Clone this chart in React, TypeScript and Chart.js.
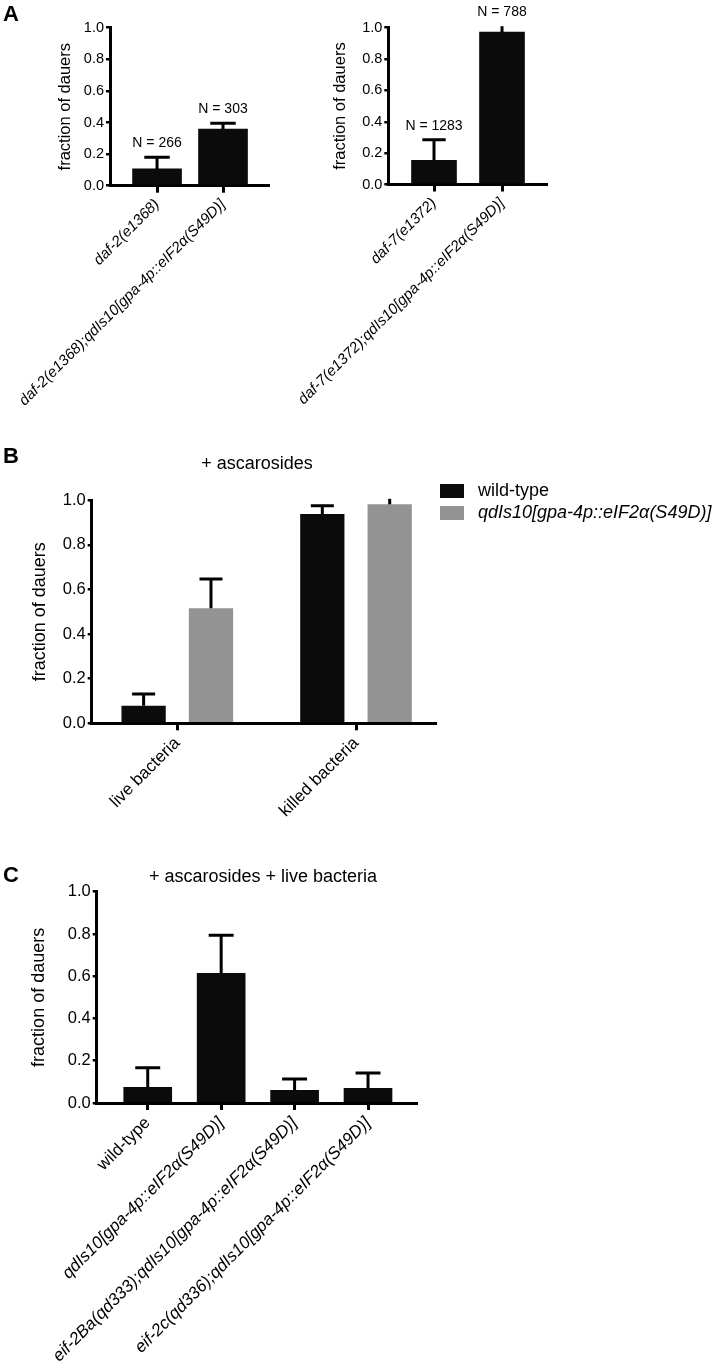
import React, { useEffect, useRef } from 'react';
import { Chart, registerables } from 'chart.js';

Chart.register(...registerables);

const FONT = '"Liberation Sans", Arial, Helvetica, sans-serif';

// ---------- Panel A (left) ----------
const aLeftLabels = ['daf-2(e1368)', 'daf-2(e1368);qdIs10[gpa-4p::eIF2α(S49D)]'];
const aLeftMeans = [0.106, 0.359];
const aLeftErrors = [0.074, 0.036];
const aLeftN = [266, 303];

// ---------- Panel A (right) ----------
const aRightLabels = ['daf-7(e1372)', 'daf-7(e1372);qdIs10[gpa-4p::eIF2α(S49D)]'];
const aRightMeans = [0.154, 0.972];
const aRightErrors = [0.132, 0.04];
const aRightN = [1283, 788];

// ---------- Panel B ----------
const bCategories = ['live bacteria', 'killed bacteria'];
const bSeriesNames = ['wild-type', 'qdIs10[gpa-4p::eIF2α(S49D)]'];
const bWildType = [0.079, 0.939];
const bWildTypeErr = [0.052, 0.037];
const bQdIs10 = [0.516, 0.982];
const bQdIs10Err = [0.131, 0.03];

// ---------- Panel C ----------
const cLabels = [
  'wild-type',
  'qdIs10[gpa-4p::eIF2α(S49D)]',
  'eif-2Ba(qd333);qdIs10[gpa-4p::eIF2α(S49D)]',
  'eif-2c(qd336);qdIs10[gpa-4p::eIF2α(S49D)]',
];
const cMeans = [0.074, 0.614, 0.06, 0.07];
const cErrors = [0.093, 0.18, 0.054, 0.072];

const yTitle = 'fraction of dauers';

const BLACK = '#0b0b0b';
const GRAY = '#939393';

type TextItem = { text: string; x: number; y: number; size: number; weight?: string; style?: string; align?: CanvasTextAlign };

function textPlugin(items: TextItem[]) {
  return {
    id: 'texts',
    afterDraw(chart: any) {
      const ctx = chart.ctx;
      ctx.save();
      ctx.fillStyle = '#000';
      ctx.textBaseline = 'middle';
      items.forEach((t) => {
        ctx.font = `${t.style || 'normal'} ${t.weight || 'normal'} ${t.size}px ${FONT}`;
        ctx.textAlign = t.align || 'left';
        ctx.fillText(t.text, t.x, t.y);
      });
      ctx.restore();
    },
  };
}

const errorBarPlugin = {
  id: 'errorBars',
  afterDatasetsDraw(chart: any) {
    const { ctx, chartArea } = chart;
    const y = chart.scales.y;
    chart.data.datasets.forEach((ds: any, di: number) => {
      const errs: number[] | undefined = ds.errors;
      if (!errs) return;
      const meta = chart.getDatasetMeta(di);
      meta.data.forEach((bar: any, i: number) => {
        const v = ds.data[i].y;
        const yBase = y.getPixelForValue(v);
        let yTop = y.getPixelForValue(v + errs[i]);
        const clipped = yTop < chartArea.top - 1.5;
        if (clipped) yTop = chartArea.top - 1.5;
        ctx.save();
        ctx.strokeStyle = '#000';
        ctx.lineWidth = 3;
        ctx.lineCap = 'butt';
        ctx.beginPath();
        ctx.moveTo(bar.x, yBase);
        ctx.lineTo(bar.x, yTop);
        if (!clipped) {
          const hw = bar.width * 0.26;
          ctx.moveTo(bar.x - hw, yTop);
          ctx.lineTo(bar.x + hw, yTop);
        }
        ctx.stroke();
        ctx.restore();
      });
    });
  },
};

function nLabelPlugin(ns: number[], size: number) {
  return {
    id: 'nLabels',
    afterDatasetsDraw(chart: any) {
      const { ctx, chartArea } = chart;
      const y = chart.scales.y;
      const ds: any = chart.data.datasets[0];
      const meta = chart.getDatasetMeta(0);
      ctx.save();
      ctx.fillStyle = '#000';
      ctx.font = `${size}px ${FONT}`;
      ctx.textAlign = 'center';
      ctx.textBaseline = 'middle';
      meta.data.forEach((bar: any, i: number) => {
        let top = y.getPixelForValue(ds.data[i].y + ds.errors[i]);
        if (top < chartArea.top - 1.5) top = chartArea.top - 1.5;
        ctx.fillText(`N = ${ns[i]}`, bar.x, top - 14);
      });
      ctx.restore();
    },
  };
}

function legendPlugin(x: number, y: number, gap: number, size: number) {
  return {
    id: 'customLegend',
    afterDraw(chart: any) {
      const ctx = chart.ctx;
      ctx.save();
      ctx.textBaseline = 'middle';
      ctx.textAlign = 'left';
      chart.data.datasets.forEach((ds: any, i: number) => {
        const cy = y + i * gap;
        ctx.fillStyle = ds.backgroundColor;
        ctx.fillRect(x, cy - 7, 24, 14);
        ctx.fillStyle = '#000';
        ctx.font = `${i === 0 ? 'normal' : 'italic'} ${size}px ${FONT}`;
        ctx.fillText(ds.label, x + 38, cy);
      });
      ctx.restore();
    },
  };
}

type Spec = {
  width: number;
  height: number;
  area: { left: number; top: number; right: number; bottom: number };
  xMin: number;
  xMax: number;
  labels: string[];
  italic: (i: number) => boolean;
  labelSize: number;
  tickSize: number;
  titleSize: number;
  titleCenterX: number;
  datasets: any[];
  plugins: any[];
};

function buildConfig(s: Spec): any {
  return {
    type: 'bar',
    data: { datasets: s.datasets },
    plugins: [errorBarPlugin, ...s.plugins],
    options: {
      animation: false,
      responsive: false,
      devicePixelRatio: 1,
      events: [],
      layout: {
        autoPadding: false,
        padding: { left: 0, top: s.area.top, right: s.width - s.area.right, bottom: 0 },
      },
      plugins: { legend: { display: false }, tooltip: { enabled: false }, title: { display: false } },
      scales: {
        x: {
          type: 'linear',
          position: 'bottom',
          min: s.xMin,
          max: s.xMax,
          bounds: 'data',
          offset: false,
          afterBuildTicks: (sc: any) => {
            sc.ticks = s.labels.map((_, i) => ({ value: i + 1 }));
          },
          afterFit: (sc: any) => {
            sc.height = s.height - s.area.bottom;
            sc.paddingLeft = 0;
            sc.paddingRight = 0;
          },
          grid: { display: true, drawOnChartArea: false, drawTicks: true, tickLength: 7, lineWidth: 3, color: '#000', offset: false },
          border: { display: true, width: 3, color: '#000' },
          ticks: {
            autoSkip: false,
            minRotation: 45,
            maxRotation: 45,
            padding: 3,
            color: '#000',
            font: (ctx: any) => ({ family: FONT, size: s.labelSize, style: s.italic(ctx.index) ? 'italic' : 'normal' }),
            callback: (v: any) => s.labels[Math.round(Number(v)) - 1] ?? '',
          },
        },
        y: {
          type: 'linear',
          min: 0,
          max: 1,
          afterFit: (sc: any) => {
            sc.width = s.area.left;
            sc.paddingTop = 0;
            sc.paddingBottom = 0;
          },
          grid: { display: true, drawOnChartArea: false, drawTicks: true, tickLength: 4, lineWidth: 2.5, color: '#000' },
          border: { display: true, width: 3, color: '#000' },
          ticks: {
            stepSize: 0.2,
            padding: 2,
            color: '#000',
            font: { family: FONT, size: s.tickSize },
            callback: (v: any) => Number(v).toFixed(1),
          },
          title: {
            display: true,
            text: yTitle,
            color: '#000',
            font: { family: FONT, size: s.titleSize, lineHeight: 1.2 },
            padding: { top: s.titleCenterX - 0.6 * s.titleSize, bottom: 0 },
          },
        },
      },
    },
  };
}

function pts(values: number[]) {
  return values.map((v, i) => ({ x: i + 1, y: v }));
}

function ChartCanvas({ left, top, width, height, build }: { left: number; top: number; width: number; height: number; build: () => any }) {
  const ref = useRef<HTMLCanvasElement>(null);
  useEffect(() => {
    const chart = new Chart(ref.current as HTMLCanvasElement, build());
    return () => chart.destroy();
  }, []);
  return (
    <canvas
      ref={ref}
      width={width}
      height={height}
      style={{ position: 'absolute', left, top, width, height, display: 'block' }}
    />
  );
}

const buildALeft = () =>
  buildConfig({
    width: 360,
    height: 430,
    area: { left: 110, top: 27.7, right: 268, bottom: 185.7 },
    xMin: 0.287,
    xMax: 2.682,
    labels: aLeftLabels,
    italic: () => true,
    labelSize: 15,
    tickSize: 14.5,
    titleSize: 16.5,
    titleCenterX: 65,
    datasets: [
      { label: 'A', data: pts(aLeftMeans), errors: aLeftErrors, backgroundColor: BLACK, borderWidth: 0, barThickness: 49 },
    ],
    plugins: [nLabelPlugin(aLeftN, 14), textPlugin([{ text: 'A', x: 3, y: 15, size: 22, weight: 'bold' }])],
  });

const buildARight = () =>
  buildConfig({
    width: 464,
    height: 430,
    area: { left: 138.3, top: 27.7, right: 296.7, bottom: 184.5 },
    xMin: 0.328,
    xMax: 2.657,
    labels: aRightLabels,
    italic: () => true,
    labelSize: 15,
    tickSize: 14.5,
    titleSize: 16.5,
    titleCenterX: 90,
    datasets: [
      { label: 'A2', data: pts(aRightMeans), errors: aRightErrors, backgroundColor: BLACK, borderWidth: 0, barThickness: 45 },
    ],
    plugins: [nLabelPlugin(aRightN, 14)],
  });

const buildB = () =>
  buildConfig({
    width: 714,
    height: 410,
    area: { left: 91.7, top: 70.3, right: 435, bottom: 293.3 },
    xMin: 0.521,
    xMax: 2.442,
    labels: bCategories,
    italic: () => false,
    labelSize: 17,
    tickSize: 16.5,
    titleSize: 18,
    titleCenterX: 40,
    datasets: [
      { label: bSeriesNames[0], data: pts(bWildType), errors: bWildTypeErr, backgroundColor: BLACK, borderWidth: 0, categoryPercentage: 0.754, barPercentage: 0.657 },
      { label: bSeriesNames[1], data: pts(bQdIs10), errors: bQdIs10Err, backgroundColor: GRAY, borderWidth: 0, categoryPercentage: 0.754, barPercentage: 0.657 },
    ],
    plugins: [
      legendPlugin(440, 61, 22, 18),
      textPlugin([
        { text: 'B', x: 3, y: 27, size: 22, weight: 'bold' },
        { text: '+ ascarosides', x: 257, y: 34, size: 18, align: 'center' },
      ]),
    ],
  });

const buildC = () =>
  buildConfig({
    width: 714,
    height: 531,
    area: { left: 96.7, top: 51.7, right: 416.7, bottom: 263 },
    xMin: 0.305,
    xMax: 4.663,
    labels: cLabels,
    italic: (i) => i !== 0,
    labelSize: 17,
    tickSize: 16.5,
    titleSize: 18,
    titleCenterX: 39.5,
    datasets: [
      { label: 'C', data: pts(cMeans), errors: cErrors, backgroundColor: BLACK, borderWidth: 0, barThickness: 48 },
    ],
    plugins: [
      textPlugin([
        { text: 'C', x: 3, y: 36, size: 22, weight: 'bold' },
        { text: '+ ascarosides + live bacteria', x: 263, y: 36.7, size: 18, align: 'center' },
      ]),
    ],
  });

export default function App() {
  return (
    <div style={{ position: 'absolute', left: 0, top: 0, width: 714, height: 1371, background: '#fff', overflow: 'hidden' }}>
      <ChartCanvas left={0} top={0} width={360} height={430} build={buildALeft} />
      <ChartCanvas left={250} top={0} width={464} height={430} build={buildARight} />
      <ChartCanvas left={0} top={430} width={714} height={410} build={buildB} />
      <ChartCanvas left={0} top={840} width={714} height={531} build={buildC} />
    </div>
  );
}
